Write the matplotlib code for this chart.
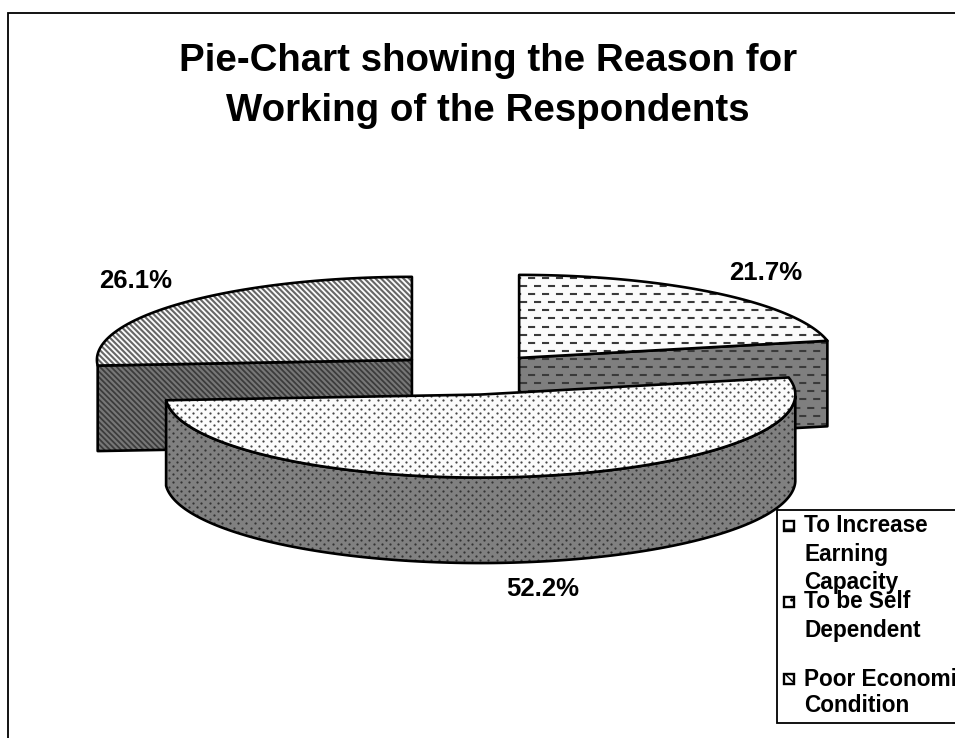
import numpy as np
import matplotlib
matplotlib.use("Agg")
import matplotlib.pyplot as plt
from matplotlib.patches import Polygon, Rectangle

plt.rcParams['font.family'] = ['Liberation Sans', 'DejaVu Sans']

title = "Pie-Chart showing the Reason for\nWorking of the Respondents"
values = [21.7, 52.2, 26.1]
value_labels = ["21.7%", "52.2%", "26.1%"]
legend_lines = [["To Increase", "Earning", "Capacity"],
                ["To be Self", "Dependent"],
                ["Poor Economic", "Condition"]]

# pie geometry in pixels
W, H = 955, 738
CX, CY = 469.5, 374
RX, RY = 315, 83
DEPTH = 85.5
EXPLODE = 0.25

fig = plt.figure(figsize=(W / 100, H / 100), dpi=100)
ax = fig.add_axes([0, 0, 1, 1])
ax.set_xlim(0, W)
ax.set_ylim(H, 0)
ax.axis("off")


def ell(c, deg):
    t = np.radians(deg)
    return np.c_[c[0] + RX * np.cos(t), c[1] - RY * np.sin(t)]


def dashes(patch, box):
    x0, x1, y0, y1 = box
    for i, y in enumerate(np.arange(y0, y1, 8.1)):
        ln = ax.hlines(y, x0 + (i % 2) * 7.5, x1, color="#3a3a3a", lw=1.5,
                       linestyles=[(0, (3.4, 3.3))], zorder=patch.get_zorder())
        ln.set_clip_path(patch)


def dots(patch, box, color="#333333"):
    x0, x1, y0, y1 = box
    for i, y in enumerate(np.arange(y0, y1, 4.1)):
        xs = np.arange(x0 + (i % 2) * 4.1, x1, 8.2)
        sc = ax.scatter(xs, np.full(len(xs), y), s=2.6, color=color, lw=0,
                        zorder=patch.get_zorder())
        sc.set_clip_path(patch)


def stripes(patch, box, color, lw=1.5):
    x0, x1, y0, y1 = box
    h = y1 - y0
    for x in np.arange(x0 - h, x1, 5.6):
        ln, = ax.plot([x, x + h], [y0, y1], color=color, lw=lw,
                      zorder=patch.get_zorder())
        ln.set_clip_path(patch)


def shape(pts, face, z):
    p = Polygon(pts, closed=True, fc=face, ec="none", zorder=z)
    ax.add_patch(p)
    return p


def outline(pts, z):
    ax.add_patch(Polygon(pts, closed=True, fc="none", ec="black", lw=1.9, zorder=z,
                         joinstyle="round"))


# frame of the chart area, runs off the canvas on the right and bottom
ax.add_patch(Rectangle((8, 13), 1000, 800, fc="white", ec="black", lw=1.3, zorder=0))

# slice angles, clockwise from the top
angles = 90 - np.cumsum([0] + values) / sum(values) * 360
centers = []
for k in range(3):
    mid = np.radians((angles[k] + angles[k + 1]) / 2)
    centers.append((CX + EXPLODE * RX * np.cos(mid), CY - EXPLODE * RY * np.sin(mid)))

# back slices first
for k in [0, 2]:
    c = np.array(centers[k])
    arc = ell(c, np.linspace(angles[k], angles[k + 1], 80))
    end = arc[-1] if k == 0 else arc[0]
    # cut face towards the viewer
    cut = np.array([c, end, end + [0, DEPTH], c + [0, DEPTH]])
    box = (c[0] - RX - 5, c[0] + RX + 5, c[1] - RY - 5, c[1] + DEPTH + 20)
    face = shape(cut, "#7f7f7f" if k == 0 else "#777777", 2)
    if k == 0:
        dashes(face, box)
    else:
        stripes(face, box, "#3c3c3c", lw=1.3)
    outline(cut, 2.1)
    top = np.vstack([[c], arc])
    tp = shape(top, "#fbfbfb", 2.2)
    if k == 0:
        dashes(tp, box)
    else:
        stripes(tp, box, "#666666")
    outline(top, 2.3)

# big front slice
c = np.array(centers[1])
deg = np.linspace(angles[1], angles[2], 160)
arc = ell(c, deg)
front = arc[np.sin(np.radians(deg)) <= 0]
wall = np.vstack([front, (front + [0, DEPTH])[::-1]])
box = (c[0] - RX - 5, c[0] + RX + 5, c[1] - RY - 30, c[1] + RY + DEPTH + 5)
w = shape(wall, "#808080", 4)
dots(w, box)
outline(wall, 4.1)
top = np.vstack([[c], arc])
tp = shape(top, "#fbfbfb", 4.2)
dots(tp, box, "#444444")
outline(top, 4.3)

# value labels
label_pos = [(766, 273), (543, 589), (136, 281)]
for s, (x, y) in zip(value_labels, label_pos):
    ax.text(x, y, s, ha="center", va="center", fontsize=18.5, fontweight="bold", zorder=6)

ax.text(488, 86, title, ha="center", va="center", fontsize=27.7, fontweight="bold",
        linespacing=1.5, zorder=6)

# legend
ax.add_patch(Rectangle((777, 510), 300, 213, fc="white", ec="black", lw=1.3, zorder=7))
line_y = [[526, 555, 583], [602, 631], [679, 706]]
for lines, ys, kind in zip(legend_lines, line_y, ["dash", "dot", "stripe"]):
    sw = Rectangle((783.5, ys[0] - 5), 10, 10, fc="white", ec="black", lw=1.7, zorder=8,
                   hatch={"dash": "--", "dot": "..", "stripe": "\\\\\\"}[kind])
    ax.add_patch(sw)
    for s, y in zip(lines, ys):
        ax.text(804, y, s, ha="left", va="center", fontsize=16.3, fontweight="bold", zorder=8)

fig.savefig("out.png", dpi=100)
